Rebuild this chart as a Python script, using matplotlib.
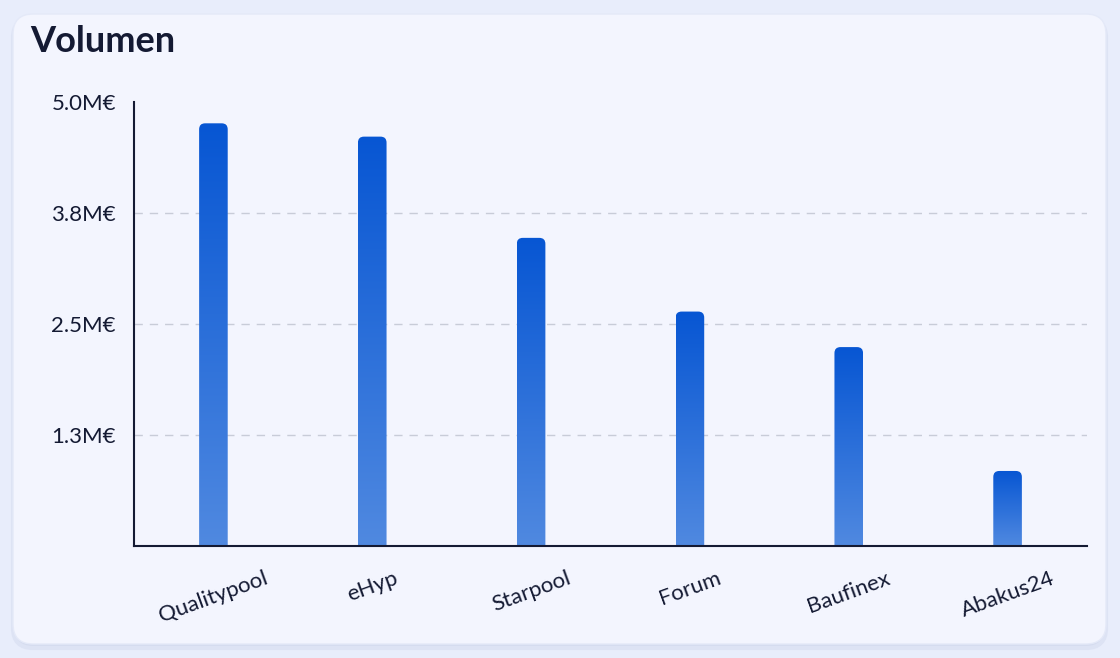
import numpy as np
import matplotlib
matplotlib.use('Agg')
import matplotlib.pyplot as plt
from matplotlib.patches import FancyBboxPatch
from matplotlib.colors import LinearSegmentedColormap

# Data (millions of EUR)
categories = ['Qualitypool', 'eHyp', 'Starpool', 'Forum', 'Baufinex', 'Abakus24']
volumes = [4.76, 4.61, 3.47, 2.64, 2.24, 0.845]
tick_values = [1.25, 2.5, 3.75, 5.0]
tick_labels = ['1.3M€', '2.5M€', '3.8M€', '5.0M€']

FONT = ['Lato', 'DejaVu Sans']
plt.rcParams['font.family'] = FONT

fig = plt.figure(figsize=(11.2, 6.58), dpi=100)
fig.patch.set_facecolor('#e8edfb')

# soft shadow + card background
shadow = FancyBboxPatch((13 / 1120, 10 / 658), (1106 - 13) / 1120, (644 - 14) / 658,
                        boxstyle='round,pad=0,rounding_size=0.018',
                        mutation_aspect=1120 / 658,
                        transform=fig.transFigure, facecolor='#d5dcef',
                        edgecolor='#dde3f4', linewidth=3, zorder=-6)
fig.patches.append(shadow)
card = FancyBboxPatch((13 / 1120, 14 / 658), (1106 - 13) / 1120, (644 - 14) / 658,
                      boxstyle='round,pad=0,rounding_size=0.018',
                      mutation_aspect=1120 / 658,
                      transform=fig.transFigure, facecolor='#f3f5fe',
                      edgecolor='#e4e9f8', linewidth=1, zorder=-5)
fig.patches.append(card)

fig.text(30 / 1120, 1 - 41 / 658, 'Volumen', fontsize=26, fontweight='bold',
         color='#141a33', va='center', ha='left')

ax = fig.add_axes([134 / 1120, 1 - 546 / 658, (1087 - 134) / 1120, (546 - 102) / 658])
ax.set_facecolor('none')
ax.set_zorder(2)

x = np.arange(len(categories))
bar_width = 0.18
bars = ax.bar(x, volumes, width=bar_width, color='#2f6fdc')

ax.set_xlim(-0.5, len(categories) - 0.5)
ax.set_ylim(0, 5.0)

# gradient fill with rounded tops
cmap = LinearSegmentedColormap.from_list('bar', ['#5089e0', '#0756d3'])
grad = np.linspace(0, 1, 256).reshape(-1, 1)
fig.canvas.draw()
px_x = ax.transData.transform((1, 0))[0] - ax.transData.transform((0, 0))[0]
px_y = ax.transData.transform((0, 1))[1] - ax.transData.transform((0, 0))[1]
radius_px = 6
rx = radius_px / px_x
ry = radius_px / px_y
for b in bars:
    x0 = b.get_x()
    w = b.get_width()
    h = b.get_height()
    b.set_visible(False)
    clip = FancyBboxPatch((x0, -0.5), w, h + 0.5,
                          boxstyle='round,pad=0,rounding_size=%f' % rx,
                          mutation_aspect=ry / rx,
                          facecolor='none', edgecolor='none')
    ax.add_patch(clip)
    im = ax.imshow(grad, cmap=cmap, origin='lower', aspect='auto',
                   extent=(x0, x0 + w, 0, h), zorder=2)
    im.set_clip_path(clip)

ax.set_xlim(-0.5, len(categories) - 0.5)
ax.set_ylim(0, 5.0)

ax.set_yticks(tick_values)
ax.set_yticklabels(tick_labels)
ax.set_xticks(x)
ax.set_xticklabels(categories, rotation=20, ha='center')
ax.tick_params(axis='both', length=0, labelsize=16, colors='#141a33')
ax.tick_params(axis='x', pad=16)
ax.tick_params(axis='y', pad=13)

for v in tick_values[:-1]:
    ax.axhline(v, color='#c8ccd8', linewidth=1, linestyle=(0, (6, 5)), zorder=1)

for side in ['top', 'right']:
    ax.spines[side].set_visible(False)
ax.spines['left'].set_color('#141a33')
ax.spines['bottom'].set_color('#141a33')
ax.spines['left'].set_linewidth(1.5)
ax.spines['bottom'].set_linewidth(1.5)

plt.savefig('out.png', dpi=100, facecolor=fig.get_facecolor())
